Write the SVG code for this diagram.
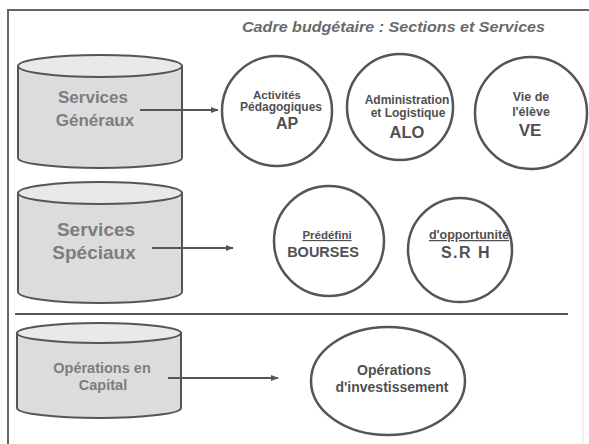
<svg xmlns="http://www.w3.org/2000/svg" width="589" height="444" viewBox="0 0 589 444">
<style>
.frame{stroke:#666;stroke-width:2;fill:none}
.cyl{fill:#dcdcdc;stroke:#555;stroke-width:2}
.cyltop{fill:#e9e9e9;stroke:#555;stroke-width:2}
.ctext{font-family:"Liberation Sans",Arial,sans-serif;font-weight:bold;fill:#7d7d7d;text-anchor:middle}
.node{fill:#fff;stroke:#555;stroke-width:2.5}
.ntext{font-family:"Liberation Sans",Arial,sans-serif;font-weight:bold;fill:#505050;text-anchor:middle}
.conn{stroke:#555;stroke-width:2;fill:none;marker-end:url(#ah)}
.title{font-family:"Liberation Sans",Arial,sans-serif;font-weight:bold;font-style:italic;font-size:15px;fill:#6a6a6a}
</style>
<defs>
<marker id="ah" viewBox="0 0 10 10" refX="9" refY="5" markerWidth="4" markerHeight="4" orient="auto" markerUnits="strokeWidth">
<path d="M0,1 L10,5 L0,9 Z" fill="#555"/>
</marker>
</defs>
<rect width="589" height="444" fill="#fff"/>
<g id="frame">
<path class="frame" d="M8,444 V10 H589"/>
<line x1="583" y1="85" x2="583" y2="444" stroke="#ececec" stroke-width="1.5"/>
<line x1="15" y1="314" x2="568" y2="314" stroke="#555" stroke-width="2"/>
<text class="title" x="242" y="32" textLength="303" lengthAdjust="spacingAndGlyphs">Cadre budgétaire : Sections et Services</text>
</g>

<g id="cyl-generaux">
<path class="cyl" d="M18,66 V158 A82,10 0 0 0 182,158 V66 Z"/>
<ellipse class="cyltop" cx="100" cy="66" rx="82" ry="11"/>
<text class="ctext" x="93" y="103" font-size="17">Services</text>
<text class="ctext" x="95" y="126" font-size="17">Généraux</text>
</g>
<g id="cyl-speciaux">
<path class="cyl" d="M18,193 V292 A82,11 0 0 0 182,292 V193 Z"/>
<ellipse class="cyltop" cx="100" cy="193" rx="82" ry="11"/>
<text class="ctext" x="96" y="236" font-size="19">Services</text>
<text class="ctext" x="94" y="259" font-size="19">Spéciaux</text>
</g>
<g id="cyl-capital">
<path class="cyl" d="M17,333 V408 A82,10 0 0 0 181,408 V333 Z"/>
<ellipse class="cyltop" cx="99" cy="333" rx="82" ry="10"/>
<text class="ctext" x="102" y="373" font-size="14.5">Opérations en</text>
<text class="ctext" x="103" y="390" font-size="14.5">Capital</text>
</g>

<g id="n-ap">
<circle class="node" cx="277" cy="111" r="55"/>
<text class="ntext" x="277" y="99" font-size="11.5">Activités</text>
<text class="ntext" x="281" y="111" font-size="12">Pédagogiques</text>
<text class="ntext" x="287" y="129" font-size="16">AP</text>
</g>
<g id="n-alo">
<circle class="node" cx="400" cy="107" r="53"/>
<text class="ntext" x="407" y="104" font-size="12">Administration</text>
<text class="ntext" x="408" y="117" font-size="12">et Logistique</text>
<text class="ntext" x="407" y="138" font-size="16.5">ALO</text>
</g>
<g id="n-ve">
<circle class="node" cx="531" cy="113" r="56"/>
<text class="ntext" x="531" y="101" font-size="12.5">Vie de</text>
<text class="ntext" x="531" y="116" font-size="12.5">l'élève</text>
<text class="ntext" x="530" y="136" font-size="17">VE</text>
</g>
<g id="n-bourses">
<circle class="node" cx="329" cy="241" r="55"/>
<text class="ntext" x="327" y="239" font-size="11.5" text-decoration="underline">Prédéfini</text>
<text class="ntext" x="323" y="257" font-size="14.5">BOURSES</text>
</g>
<g id="n-srh">
<circle class="node" cx="460" cy="250" r="52"/>
<text class="ntext" x="469" y="239" font-size="12.5" text-decoration="underline">d'opportunité</text>
<text class="ntext" x="466" y="258" font-size="16" letter-spacing="1.5">S.R H</text>
</g>
<g id="n-invest">
<ellipse class="node" cx="388" cy="381" rx="77" ry="54"/>
<text class="ntext" x="394" y="375" font-size="14">Opérations</text>
<text class="ntext" x="392" y="392" font-size="14">d'investissement</text>
</g>

<g id="connectors">
<line class="conn" x1="140" y1="110" x2="218" y2="110"/>
<line class="conn" x1="152" y1="248" x2="233" y2="248"/>
<line class="conn" x1="168" y1="378" x2="278" y2="378"/>
</g>
</svg>
